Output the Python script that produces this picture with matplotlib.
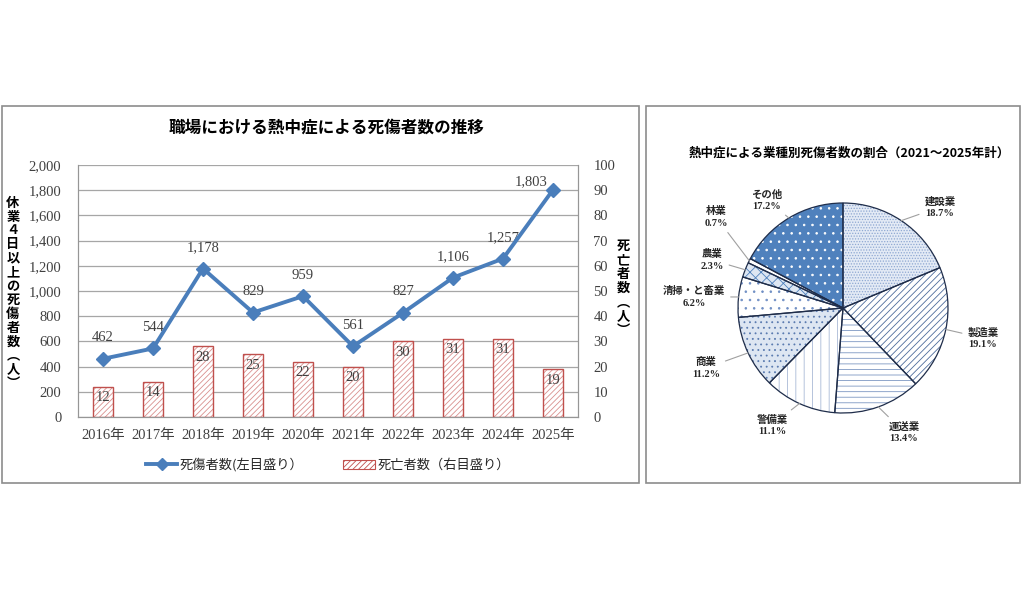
import matplotlib.pyplot as plt
import numpy as np
from matplotlib.lines import Line2D
from matplotlib.patches import Patch, Rectangle

plt.rcParams['font.family'] = ['Noto Sans CJK JP', 'DejaVu Sans']
plt.rcParams['hatch.linewidth'] = 0.6

# data
years = ["2016年", "2017年", "2018年", "2019年", "2020年",
         "2021年", "2022年", "2023年", "2024年", "2025年"]
casualties = [462, 544, 1178, 829, 959, 561, 827, 1106, 1257, 1803]
deaths = [12, 14, 28, 25, 22, 20, 30, 31, 31, 19]

industries = ["建設業", "製造業", "運送業", "警備業", "商業",
              "清掃・と畜業", "農業", "林業", "その他"]
shares = [18.7, 19.1, 13.4, 11.1, 11.2, 6.2, 2.3, 0.7, 17.2]

serif = ['Liberation Serif', 'Noto Sans CJK JP']
W, H = 1024, 590
blue = '#4A7EBB'
red = '#C0504D'

fig = plt.figure(figsize=(W / 100, H / 100), dpi=100)


def fx(px):
    return px / W


def fy(py):
    return 1 - py / H


# panel frames
for x0, y0, x1, y1 in [(2, 106, 639, 483), (646, 106, 1020, 483)]:
    fig.patches.append(Rectangle((fx(x0), fy(y1)), fx(x1 - x0), (y1 - y0) / H,
                                 transform=fig.transFigure, fill=False,
                                 edgecolor='#8C8C8C', lw=1.2))

# ---- left chart ----
ax = fig.add_axes([fx(78), fy(417), fx(500), (417 - 165) / H])
ax2 = ax.twinx()
x = np.arange(len(years))

ax2.bar(x, deaths, width=0.4, facecolor='white', edgecolor='#D9908E',
        hatch='//////', lw=0, zorder=2)
ax2.bar(x, deaths, width=0.4, fill=False, edgecolor=red, lw=1.0, zorder=3)
for xi, d in zip(x, deaths):
    ax2.annotate(str(d), (xi, d), xytext=(0, -8), textcoords='offset points',
                 ha='center', va='center', fontsize=10.5, family=serif,
                 color='#404040', zorder=4)

ax.set_zorder(ax2.get_zorder() + 1)
ax.patch.set_visible(False)
ax.plot(x, casualties, color=blue, lw=2.8, marker='D', markersize=7,
        zorder=5, clip_on=False)
for i, (xi, c) in enumerate(zip(x, casualties)):
    off = (-16, 6) if i == len(x) - 1 else (0, 15)
    ax.annotate(f"{c:,}", (xi, c), xytext=off, textcoords='offset points',
                ha='center', va='center', fontsize=10.5, family=serif,
                color='#404040')

ax.set_xlim(-0.5, len(years) - 0.5)
ax.set_ylim(0, 2000)
ax.set_yticks(range(0, 2001, 200))
ax.set_yticklabels([f"{v:,}" for v in range(0, 2001, 200)])
ax2.set_ylim(0, 100)
ax2.set_yticks(range(0, 101, 10))
ax.set_xticks(x)
ax.set_xticklabels(years)
ax2.yaxis.grid(True, color='#A6A6A6', lw=0.9, zorder=0)
ax2.set_axisbelow(True)

for a in (ax, ax2):
    a.tick_params(length=0, labelsize=10.5, colors='#404040')
    for lab in a.get_yticklabels() + a.get_xticklabels():
        lab.set_family(serif)
    for s in a.spines.values():
        s.set_color('#969696')
    a.spines['top'].set_visible(False)
ax.tick_params(axis='y', pad=12)
ax.tick_params(axis='x', pad=9)
ax2.tick_params(axis='y', pad=11)

fig.text(fx(327), fy(128), "職場における熱中症による死傷者数の推移",
         ha='center', va='center', fontsize=12, fontweight='bold')
fig.text(fx(13), fy(293), "\n".join("休業４日以上の死傷者数︵人︶"),
         ha='center', va='center', fontsize=9.5, fontweight='bold',
         linespacing=0.99)
fig.text(fx(623), fy(288), "\n".join("死亡者数︵人︶"),
         ha='center', va='center', fontsize=9.5, fontweight='bold',
         linespacing=0.99)

handles = [Line2D([], [], color=blue, lw=2.8, marker='D', markersize=6),
           Patch(facecolor='white', edgecolor=red, hatch='//////', lw=0.8)]
fig.legend(handles, ["死傷者数(左目盛り）", "死亡者数（右目盛り）"],
           loc='center', bbox_to_anchor=(fx(328), fy(465)), ncol=2,
           frameon=False, fontsize=9.5, handlelength=2.4, handletextpad=0.2,
           columnspacing=3.0, labelcolor='#262626')

# ---- right pie ----
cx, cy, R = 843, 308, 105
pax = fig.add_axes([fx(cx - 180), fy(cy + 150), fx(360), 300 / H])

faces = ['#E3EAF5', 'white', 'white', 'white', '#DDE6F2',
         'white', '#DDE6F2', 'white', '#4F81BD']
hatch_cols = ['#8FA8D2', '#4E6C9C', '#7D97C2', '#A9B9D6', '#5A7BB0',
              '#6F8EC4', '#4F81BD', 'white', 'white']
hatches = ['......', '/////', '---', '||', '...', '..', 'xxx', None, '..']

wedges, _ = pax.pie(shares, startangle=90, counterclock=False,
                    colors=faces, wedgeprops=dict(lw=0))
for w, h, hc in zip(wedges, hatches, hatch_cols):
    w.set_edgecolor(hc)
    if h:
        w.set_hatch(h)
pax.pie(shares, startangle=90, counterclock=False,
        wedgeprops=dict(fill=False, edgecolor='#1F2D4A', lw=0.9))
pax.set_xlim(-180 / R, 180 / R)
pax.set_ylim(-150 / R, 150 / R)
pax.set_aspect('equal')
pax.axis('off')

label_px = [(940, 207), (983, 338), (904, 432), (772, 425), (706, 368),
            (694, 297), (712, 260), (716, 217), (767, 200)]
for w, name, s, (lx, ly) in zip(wedges, industries, shares, label_px):
    ang = np.deg2rad((w.theta1 + w.theta2) / 2)
    pax.annotate(f"{name}\n{s}%", (np.cos(ang), np.sin(ang)),
                 xytext=((lx - cx) / R, (cy - ly) / R),
                 ha='center', va='center', fontsize=7.5, fontweight='bold',
                 family=serif, color='#262626', linespacing=1.3,
                 arrowprops=dict(arrowstyle='-', color='#A0A0A0', lw=0.8,
                                 shrinkA=2, shrinkB=0))

fig.text(fx(849), fy(153), "熱中症による業種別死傷者数の割合（2021～2025年計）",
         ha='center', va='center', fontsize=9, fontweight='bold')

fig.savefig('out.png', dpi=100)
